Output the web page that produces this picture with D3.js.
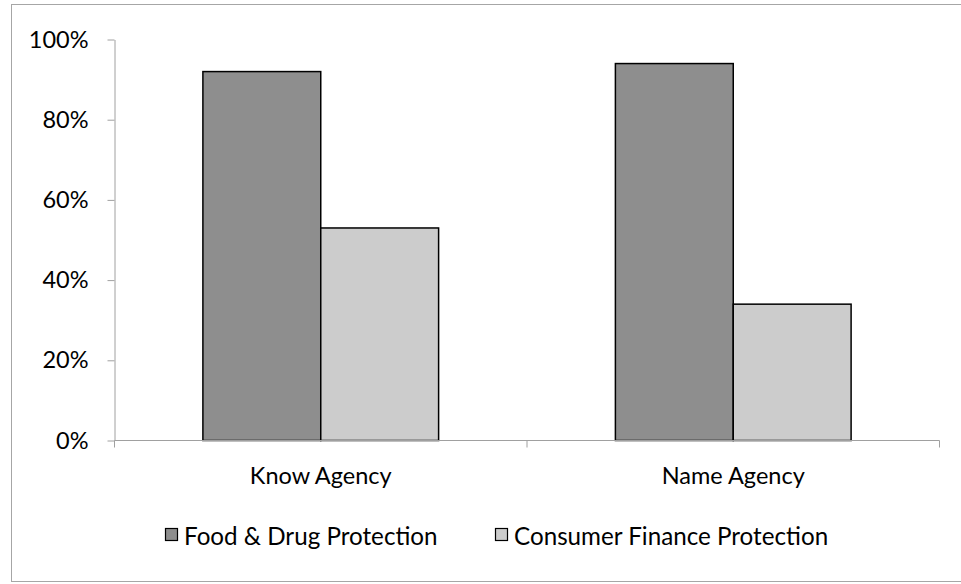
<!DOCTYPE html>
<html>
<head>
<meta charset="utf-8">
<script src="https://cdn.jsdelivr.net/npm/d3@7"></script>
<style>
  html, body { margin: 0; padding: 0; background: #fff; }
  svg text { font-family: Lato, "Open Sans", sans-serif; fill: #000; }
</style>
</head>
<body>
<svg id="chart" width="961" height="584"></svg>
<script>
// Awareness of agencies, share of respondents
const categories = ["Know Agency", "Name Agency"];
const seriesNames = ["Food & Drug Protection", "Consumer Finance Protection"];
const foodDrug = [0.92, 0.94];
const consumerFinance = [0.53, 0.34];
const yTicks = [0, 0.2, 0.4, 0.6, 0.8, 1.0];
const colors = ["#8e8e8e", "#cccccc"];

const svg = d3.select("#chart");
const W = 961, H = 584;
const fontSize = 23.5;
const legendFontSize = 24.2;

// Chart frame
svg.append("rect")
  .attr("x", 11.5).attr("y", 4.5)
  .attr("width", W + 10).attr("height", 577)
  .attr("fill", "#fff").attr("stroke", "#a6a6a6").attr("stroke-width", 1);

const plot = { left: 114.5, right: 939.5, top: 39.5, bottom: 440.5 };

const x0 = d3.scaleBand().domain(categories)
  .range([plot.left, plot.right]).paddingInner(0).paddingOuter(0);
// 150% gap width: the pair of bars fills 2 / (2 + 1.5) of each band
const groupFrac = 2 / 3.5;
const x1 = d3.scaleBand().domain(seriesNames)
  .range([0, x0.bandwidth() * groupFrac]);
const y = d3.scaleLinear().domain([0, 1]).range([plot.bottom, plot.top]);

const rows = categories.map((c, i) => ({ cat: c, vals: [foodDrug[i], consumerFinance[i]] }));

// Bars
const groups = svg.append("g").selectAll("g").data(rows).join("g")
  .attr("transform", d => `translate(${x0(d.cat) + x0.bandwidth() * (1 - groupFrac) / 2},0)`);
groups.selectAll("rect")
  .data(d => d.vals.map((v, j) => ({ v, s: seriesNames[j], j })))
  .join("rect")
  .attr("x", d => x1(d.s))
  .attr("y", d => y(d.v))
  .attr("width", x1.bandwidth())
  .attr("height", d => y(0) - y(d.v))
  .attr("fill", d => colors[d.j])
  .attr("stroke", "#000").attr("stroke-width", 1.5);

// Y axis
const yAxis = d3.axisLeft(y).tickValues(yTicks).tickFormat(d3.format(".0%"))
  .tickSizeOuter(0).tickSizeInner(7).tickPadding(19);
const gy = svg.append("g").attr("transform", `translate(${plot.left},0)`).call(yAxis);
gy.select(".domain").attr("stroke", "#a0a0a0");
gy.selectAll(".tick line").attr("stroke", "#a0a0a0");
gy.selectAll(".tick text").attr("font-size", fontSize).attr("font-family", "Lato, sans-serif").attr("fill", "#000");

// X axis with ticks at category boundaries
const gx = svg.append("g").attr("transform", `translate(0,${plot.bottom})`);
gx.append("line").attr("x1", plot.left).attr("x2", plot.right)
  .attr("stroke", "#a0a0a0");
const bounds = [plot.left, ...categories.map(c => x0(c) + x0.bandwidth())];
gx.selectAll("line.tk").data(bounds).join("line").attr("class", "tk")
  .attr("x1", d => d).attr("x2", d => d).attr("y1", 0).attr("y2", 7)
  .attr("stroke", "#a0a0a0");
gx.selectAll("text").data(categories).join("text")
  .attr("x", d => x0(d) + x0.bandwidth() / 2)
  .attr("y", 43)
  .attr("text-anchor", "middle")
  .attr("font-size", fontSize)
  .text(d => d);

// Legend
const legendX = [165, 495];
const lg = svg.append("g").selectAll("g").data(seriesNames).join("g")
  .attr("transform", (d, i) => `translate(${legendX[i]},528)`);
lg.append("rect").attr("x", 0.5).attr("y", 0.5).attr("width", 12).attr("height", 12)
  .attr("fill", (d, i) => colors[i]).attr("stroke", "#000").attr("stroke-width", 1.2);
lg.append("text").attr("x", 19).attr("y", 17).attr("font-size", legendFontSize).text(d => d);
</script>
</body>
</html>
